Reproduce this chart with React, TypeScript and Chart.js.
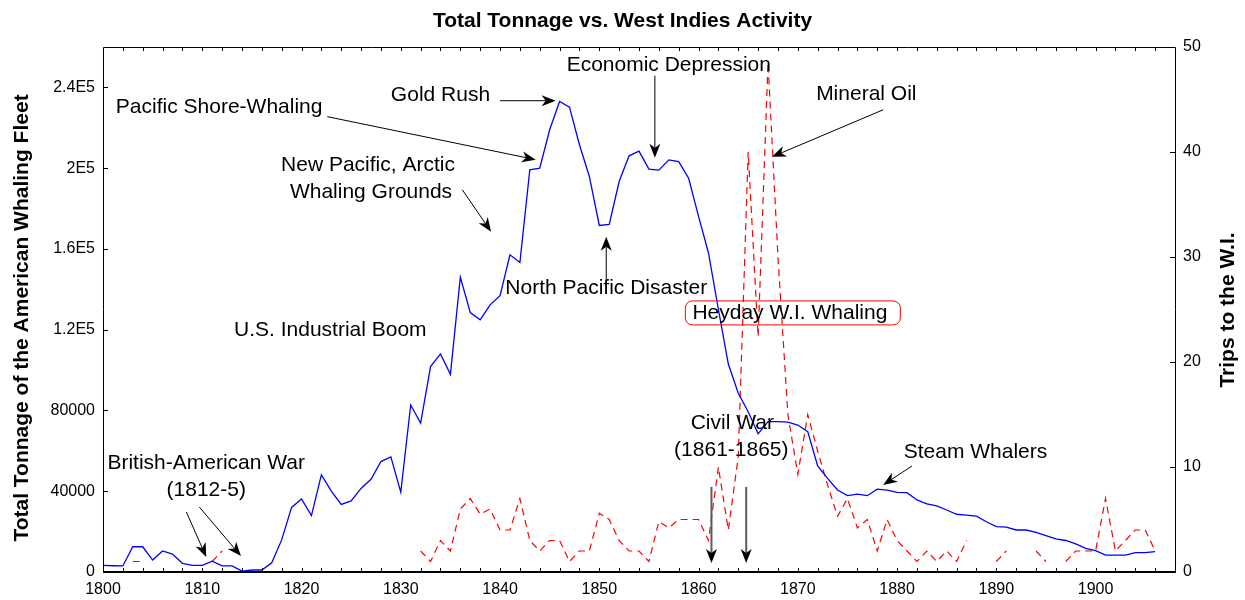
import React, { useEffect, useRef } from "react";
import { Chart, registerables } from "chart.js";

Chart.register(...registerables);

// ---------- data ----------
const FIRST_YEAR = 1800;

// Total tonnage of the American whaling fleet, 1800..1906
const tonnage: number[] = [
  3300, 3100, 3000, 12500, 12500, 5900, 10400, 8900, 4300, 3300,
  3300, 5400, 3000, 3000, 400, 1000, 1000, 4600, 15900, 32000,
  36200, 27900, 48100, 40100, 33500, 35200, 41400, 45900, 54700, 57000,
  39500, 82700, 73700, 101700, 108000, 97900, 146000, 128500, 124900, 132300,
  136800, 157100, 153300, 199200, 200000, 219000, 233000, 230200, 211600, 195900,
  171600, 172100, 193400, 206100, 208400, 199500, 199000, 204100, 203200, 195000,
  176100, 158000, 130000, 103000, 88500, 79400, 68400, 74500, 74500, 74200,
  72800, 69500, 52500, 46400, 40600, 37800, 38600, 37800, 41000, 40600,
  39400, 39300, 35700, 33700, 32700, 30700, 28600, 28200, 27700, 24900,
  22500, 22200, 20800, 20800, 19600, 18000, 16400, 15600, 13900, 11700,
  10600, 8400, 8400, 8400, 9600, 9600, 10100,
];

// Trips to the West Indies, 1800..1906 (null = no record)
const trips: (number | null)[] = [
  null, null, null, 1, 1, null, null, null, null, null,
  null, 1, 2, null, null, null, null, null, null, null,
  null, null, null, null, null, null, null, null, null, null,
  null, null, 2, 1, 3, 2, 6, 7, 5.5, 6,
  4, 4, 7, 3, 2, 3, 3, 1, 2, 2,
  5.6, 5, 3, 2, 2, 1, 4.8, 4.2, 5, 5,
  5, 3, 10, 4, 11, 40, 22.4, 48.5, 30, 15,
  9.3, 15, 11.5, 8.3, 5.3, 7, 4.2, 5, 2, 5,
  3, 2, 1, 2, 1, 2, 1, 3, null, null,
  1, 2, null, null, 2, 1, null, 1, 2, 2,
  2, 7, 2, 3, 4, 4, 2,
];

const years: number[] = tonnage.map((_, i) => FIRST_YEAR + i);

const xTickYears = [1800, 1810, 1820, 1830, 1840, 1850, 1860, 1870, 1880, 1890, 1900];
const leftTicks = [0, 40000, 80000, 120000, 160000, 200000, 240000];
const rightTicks = [0, 10, 20, 30, 40, 50];

const TITLE = "Total Tonnage vs. West Indies Activity";
const LEFT_TITLE = "Total Tonnage of the American Whaling Fleet";
const RIGHT_TITLE = "Trips to the W.I.";

// annotation texts anchored in data units (year, tonnage)
const noteTexts = [
  { text: "Pacific Shore-Whaling", year: 1811.7, tons: 230000 },
  { text: "Gold Rush", year: 1834.0, tons: 235900 },
  { text: "Economic Depression", year: 1857.0, tons: 251200 },
  { text: "Mineral Oil", year: 1876.9, tons: 236800 },
  { text: "New Pacific, Arctic", year: 1826.7, tons: 201500 },
  { text: "Whaling Grounds", year: 1827.0, tons: 188100 },
  { text: "North Pacific Disaster", year: 1850.7, tons: 140700 },
  { text: "U.S. Industrial Boom", year: 1822.9, tons: 119900 },
  { text: "Heyday W.I. Whaling", year: 1869.2, tons: 128300 },
  { text: "Civil War", year: 1863.4, tons: 73800 },
  { text: "(1861-1865)", year: 1863.3, tons: 60400 },
  { text: "Steam Whalers", year: 1887.9, tons: 59500 },
  { text: "British-American War", year: 1810.4, tons: 54000 },
  { text: "(1812-5)", year: 1810.4, tons: 40600 },
];

const noteArrows = [
  { from: [1822.6, 225500], to: [1843.6, 204200], grey: false },
  { from: [1840.0, 233400], to: [1845.6, 233400], grey: false },
  { from: [1855.6, 245800], to: [1855.6, 205100], grey: false },
  { from: [1878.6, 228900], to: [1867.4, 205600], grey: false },
  { from: [1836.2, 189300], to: [1839.1, 168500], grey: false },
  { from: [1850.7, 143700], to: [1850.7, 166000], grey: false },
  { from: [1861.3, 42100], to: [1861.3, 4500], grey: true },
  { from: [1864.8, 42100], to: [1864.8, 4500], grey: true },
  { from: [1881.5, 52500], to: [1878.6, 43100], grey: false },
  { from: [1808.4, 29700], to: [1810.4, 7400], grey: false },
  { from: [1809.7, 32200], to: [1813.9, 7900], grey: false },
];

const heydayBox = { year: 1869.5, tons: 128300, w: 215, h: 24 };

const FONT = "'Liberation Sans', Arial, Helvetica, sans-serif";

function formatLeft(v: number): string {
  if (v >= 100000) return `${+(v / 100000).toFixed(2)}E5`;
  return String(v);
}

function drawArrow(ctx: CanvasRenderingContext2D, x1: number, y1: number, x2: number, y2: number, grey: boolean) {
  const ang = Math.atan2(y2 - y1, x2 - x1);
  const len = 14;
  const half = 5.5;
  const notch = 4;
  ctx.save();
  ctx.strokeStyle = grey ? "#5a5a5a" : "#000";
  ctx.lineWidth = grey ? 2 : 1;
  ctx.beginPath();
  ctx.moveTo(x1, y1);
  ctx.lineTo(x2 - Math.cos(ang) * (len - notch), y2 - Math.sin(ang) * (len - notch));
  ctx.stroke();
  ctx.fillStyle = "#000";
  ctx.translate(x2, y2);
  ctx.rotate(ang);
  ctx.beginPath();
  ctx.moveTo(0, 0);
  ctx.lineTo(-len, -half);
  ctx.lineTo(-len + notch, 0);
  ctx.lineTo(-len, half);
  ctx.closePath();
  ctx.fill();
  ctx.restore();
}

const decorPlugin = {
  id: "decor",
  afterDatasetsDraw(chart: any) {
    const ctx: CanvasRenderingContext2D = chart.ctx;
    const area = chart.chartArea;
    const xs = chart.scales.x;
    const ys = chart.scales.y;
    const y1s = chart.scales.y1;
    ctx.save();

    // frame
    ctx.strokeStyle = "#000";
    ctx.lineWidth = 1;
    ctx.beginPath();
    ctx.moveTo(Math.round(area.left) + 0.5, Math.round(area.bottom));
    ctx.lineTo(Math.round(area.left) + 0.5, Math.round(area.top) + 0.5);
    ctx.lineTo(Math.round(area.right) + 0.5, Math.round(area.top) + 0.5);
    ctx.lineTo(Math.round(area.right) + 0.5, Math.round(area.bottom));
    ctx.stroke();
    ctx.lineWidth = 2;
    ctx.beginPath();
    ctx.moveTo(Math.round(area.left), Math.round(area.bottom));
    ctx.lineTo(Math.round(area.right) + 1, Math.round(area.bottom));
    ctx.stroke();

    // inward ticks
    ctx.lineWidth = 1;
    ctx.beginPath();
    for (let yr = 1802; yr < 1908; yr += 2) {
      const px = Math.round(xs.getPixelForValue(yr)) + 0.5;
      ctx.moveTo(px, area.bottom);
      ctx.lineTo(px, area.bottom - 4);
      ctx.moveTo(px, area.top);
      ctx.lineTo(px, area.top + 4);
    }
    for (const v of leftTicks) {
      const py = Math.round(ys.getPixelForValue(v)) + 0.5;
      ctx.moveTo(area.left, py);
      ctx.lineTo(area.left + 5, py);
    }
    for (const v of rightTicks) {
      const py = Math.round(y1s.getPixelForValue(v)) + 0.5;
      ctx.moveTo(area.right, py);
      ctx.lineTo(area.right - 5, py);
    }
    ctx.stroke();

    // titles
    ctx.fillStyle = "#000";
    ctx.textAlign = "center";
    ctx.textBaseline = "middle";
    ctx.font = `bold 21px ${FONT}`;
    ctx.fillText(TITLE, chart.width / 2, 21);
    ctx.save();
    ctx.translate(22, 318);
    ctx.rotate(-Math.PI / 2);
    ctx.fillText(LEFT_TITLE, 0, 0);
    ctx.restore();
    ctx.save();
    ctx.translate(1228, 310);
    ctx.rotate(-Math.PI / 2);
    ctx.fillText(RIGHT_TITLE, 0, 0);
    ctx.restore();

    // heyday box
    const bx = xs.getPixelForValue(heydayBox.year);
    const by = ys.getPixelForValue(heydayBox.tons);
    ctx.strokeStyle = "#ff0000";
    ctx.lineWidth = 1;
    ctx.beginPath();
    (ctx as any).roundRect(bx - heydayBox.w / 2, by - heydayBox.h / 2, heydayBox.w, heydayBox.h, 7);
    ctx.stroke();

    // annotation texts
    ctx.font = `21px ${FONT}`;
    ctx.fillStyle = "#000";
    for (const n of noteTexts) {
      ctx.fillText(n.text, xs.getPixelForValue(n.year), ys.getPixelForValue(n.tons));
    }

    // arrows
    for (const a of noteArrows) {
      drawArrow(
        ctx,
        xs.getPixelForValue(a.from[0]), ys.getPixelForValue(a.from[1]),
        xs.getPixelForValue(a.to[0]), ys.getPixelForValue(a.to[1]),
        a.grey
      );
    }
    ctx.restore();
  },
};

export default function App() {
  const ref = useRef<HTMLCanvasElement | null>(null);

  useEffect(() => {
    document.body.style.margin = "0";
    const canvas = ref.current;
    if (!canvas) return;
    const chart = new Chart(canvas, {
      type: "line",
      data: {
        datasets: [
          {
            label: "Tonnage",
            data: years.map((yr, i) => ({ x: yr, y: tonnage[i] })),
            borderColor: "#0000ff",
            backgroundColor: "#0000ff",
            borderWidth: 1.3,
            pointRadius: 0,
            tension: 0,
            yAxisID: "y",
          },
          {
            label: "Trips",
            data: years.map((yr, i) => ({ x: yr, y: trips[i] })),
            borderColor: "#ff0000",
            backgroundColor: "#ff0000",
            borderWidth: 1.2,
            borderDash: [7, 5],
            pointRadius: 0,
            tension: 0,
            spanGaps: false,
            yAxisID: "y1",
          },
        ],
      },
      options: {
        responsive: false,
        animation: false,
        devicePixelRatio: 1,
        layout: { padding: { top: 47, left: 0, right: 0, bottom: 0 } },
        plugins: {
          legend: { display: false },
          title: { display: false },
          tooltip: { enabled: false },
        },
        scales: {
          x: {
            type: "linear",
            min: 1800,
            max: 1908,
            grid: { display: false, drawTicks: false },
            border: { display: false },
            afterFit: (s: any) => { s.height = 28; },
            afterBuildTicks: (s: any) => { s.ticks = xTickYears.map((v) => ({ value: v })); },
            ticks: {
              includeBounds: false,
              autoSkip: false,
              maxRotation: 0,
              padding: 8,
              color: "#000",
              font: { family: FONT, size: 16 },
              callback: (v: any) => String(v),
            },
          },
          y: {
            type: "linear",
            position: "left",
            min: 0,
            max: 260000,
            grid: { display: false, drawTicks: false },
            border: { display: false },
            afterFit: (s: any) => { s.width = 103; },
            afterBuildTicks: (s: any) => { s.ticks = leftTicks.map((v) => ({ value: v })); },
            ticks: {
              includeBounds: false,
              padding: 8,
              color: "#000",
              font: { family: FONT, size: 16 },
              callback: (v: any) => formatLeft(Number(v)),
            },
          },
          y1: {
            type: "linear",
            position: "right",
            min: 0,
            max: 50,
            grid: { display: false, drawTicks: false },
            border: { display: false },
            afterFit: (s: any) => { s.width = 70; },
            afterBuildTicks: (s: any) => { s.ticks = rightTicks.map((v) => ({ value: v })); },
            ticks: {
              includeBounds: false,
              padding: 8,
              color: "#000",
              font: { family: FONT, size: 16 },
              callback: (v: any) => String(v),
            },
          },
        },
      },
      plugins: [decorPlugin],
    } as any);
    return () => chart.destroy();
  }, []);

  return (
    <div style={{ width: 1245, height: 600 }}>
      <canvas ref={ref} width={1245} height={600} style={{ display: "block" }} />
    </div>
  );
}
